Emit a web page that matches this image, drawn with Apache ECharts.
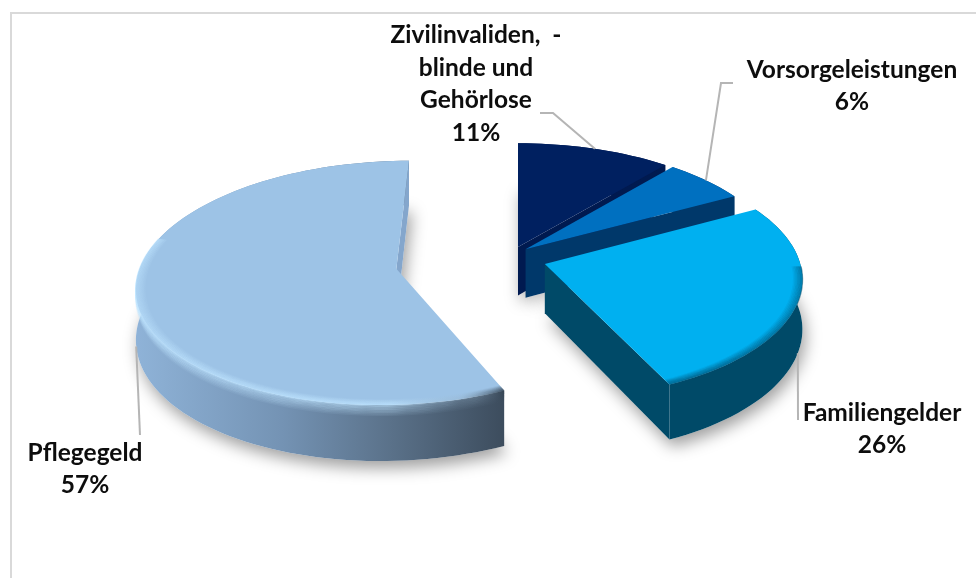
<!DOCTYPE html>
<html>
<head>
<meta charset="utf-8">
<style>html,body{margin:0;padding:0;background:#fff}#chart{width:976px;height:579px}</style>
<script src="https://cdn.jsdelivr.net/npm/echarts@6/dist/echarts.min.js"></script>
</head>
<body>
<div id="chart"></div>
<script>
const names = ['Zivilinvaliden,  -\nblinde und\nGehörlose', 'Vorsorgeleistungen', 'Familiengelder', 'Pflegegeld']
const values = [11, 6, 26, 57]

// drawn back to front
const topColors = ['#002060', '#0070c0', '#00b0f0', '#9dc3e6']
const faceColors = ['#001a50', '#00386a', '#004a68', '#84a6cc']
const explode = [[0, -0.095], [0.03, -0.075], [0.105, 0.05], [-0.474, 0.09]]
const labelPos = [[476, 84], [852, 86], [882, 429], [85, 469]]
const leaderBends = [[[553, 113], [540, 113]], [[721, 83], [733, 83]], [[798, 420]], [[140, 435]]]
const leaderOnBase = [false, false, true, true]

// perspective of the pie plane
const CX = 518, CY = 258, RX = 254, RY = 118, K = 0.115, DEPTH = 49
const total = values.reduce((a, b) => a + b, 0)

function proj(i, r, deg, z) {
  const t = deg * Math.PI / 180
  const u = r * Math.sin(t) + explode[i][0]
  const v = -r * Math.cos(t) + explode[i][1]
  const w = 1 - K * v
  return [CX + RX * u / w, CY + RY * v / w + z / w]
}

function arc(i, r, a0, a1, z) {
  const n = Math.max(2, Math.ceil(Math.abs(a1 - a0) / 2))
  const pts = []
  for (let j = 0; j <= n; j++) pts.push(proj(i, r, a0 + (a1 - a0) * j / n, z))
  return pts
}

function hGrad(x, x2, stops) {
  return { type: 'linear', x, y: 0, x2, y2: 0, global: true, colorStops: stops }
}

function pflegeStroke(alpha) {
  return hGrad(130, 505, [
    { offset: 0, color: `rgba(190,228,255,${alpha})` },
    { offset: 0.7, color: `rgba(190,228,255,${alpha})` },
    { offset: 0.88, color: `rgba(150,180,205,${alpha * 0.5})` },
    { offset: 1, color: `rgba(50,65,80,${alpha * 1.4})` },
  ])
}

function bevel(i, a0, a1) {
  const out = []
  for (let s = 0; s < 7; s++) {
    const alpha = 0.55 * (1 - s / 7)
    out.push({
      type: 'polyline', silent: true,
      shape: { points: arc(i, 1 - s * 0.0055, a0, a1, 0) },
      style: { fill: null, stroke: i === 3 ? pflegeStroke(alpha) : `rgba(0,80,115,${alpha})`, lineWidth: 1.6 },
    })
    // light lip on the wall just under the rim
    if (i === 3) {
      out.push({
        type: 'polyline', silent: true,
        shape: { points: arc(i, 1, a0, a1, s * 1.3 + 1) },
        style: { fill: null, stroke: pflegeStroke(alpha), lineWidth: 1.6 },
      })
    }
  }
  return out
}

function renderSlice(params) {
  const i = params.dataIndex
  const a0 = values.slice(0, i).reduce((a, b) => a + b, 0) / total * 360
  const a1 = a0 + values[i] / total * 360
  const apex = proj(i, 0, 0, 0)
  const apexLow = proj(i, 0, 0, DEPTH)
  const rimTop = arc(i, 1, a0, a1, 0)
  const rimLow = arc(i, 1, a0, a1, DEPTH)
  const children = []

  // soft ground shadow
  children.push({
    type: 'polygon', silent: true,
    shape: { points: [apexLow].concat(rimLow) },
    style: { fill: '#fff', shadowColor: 'rgba(0,0,0,0.38)', shadowBlur: 16, shadowOffsetY: 7, shadowOffsetX: 3 },
  })

  // outer wall
  const wallFill = i === 3
    ? hGrad(135, 502, [
        { offset: 0, color: '#8fb3d8' },
        { offset: 0.4, color: '#7493b4' },
        { offset: 0.7, color: '#5a7189' },
        { offset: 1, color: '#3d4d5e' },
      ])
    : faceColors[i]
  children.push({
    type: 'polygon', silent: true,
    shape: { points: rimTop.concat(rimLow.slice().reverse()) },
    style: { fill: wallFill },
  })

  // radial side face
  const endTop = rimTop[rimTop.length - 1], endLow = rimLow[rimLow.length - 1]
  children.push({
    type: 'polygon', silent: true,
    shape: { points: [apex, endTop, endLow, apexLow] },
    style: { fill: faceColors[i] },
  })

  if (i === 3) children.push(...bevel(i, a0, a0 + 130).filter((_, n) => n % 2 === 1))

  // top face
  children.push({
    type: 'polygon', silent: true,
    shape: { points: [apex].concat(rimTop) },
    style: { fill: topColors[i] },
  })
  if (i === 2) children.push(...bevel(i, a0 + 30, a1))
  if (i === 3) children.push(...bevel(i, a0, a0 + 130).filter((_, n) => n % 2 === 0))

  // leader line from the middle of the slice's rim
  const anchor = proj(i, 1, (a0 + a1) / 2, leaderOnBase[i] ? DEPTH : 0)
  children.push({
    type: 'polyline', silent: true,
    shape: { points: [anchor].concat(leaderBends[i]) },
    style: { fill: null, stroke: '#b5b5b5', lineWidth: 2 },
  })

  // label
  children.push({
    type: 'text', silent: true,
    x: labelPos[i][0], y: labelPos[i][1],
    style: {
      text: names[i] + '\n' + values[i] + '%',
      font: 'bold 24.5px Lato, sans-serif',
      lineHeight: 32.5,
      fill: '#0d0d0d',
      align: 'center',
      verticalAlign: 'middle',
    },
  })
  return { type: 'group', children }
}

const chart = echarts.init(document.getElementById('chart'), null, { renderer: 'canvas' })
chart.setOption({
  backgroundColor: '#fff',
  animation: false,
  graphic: [
    { type: 'line', shape: { x1: 10, y1: 13, x2: 976, y2: 13 }, style: { stroke: '#d9d9d9', lineWidth: 2 } },
    { type: 'line', shape: { x1: 11, y1: 13, x2: 11, y2: 578 }, style: { stroke: '#d9d9d9', lineWidth: 2 } },
  ],
  series: [{
    type: 'custom',
    coordinateSystem: 'none',
    renderItem: renderSlice,
    data: values,
  }],
})
</script>
</body>
</html>
